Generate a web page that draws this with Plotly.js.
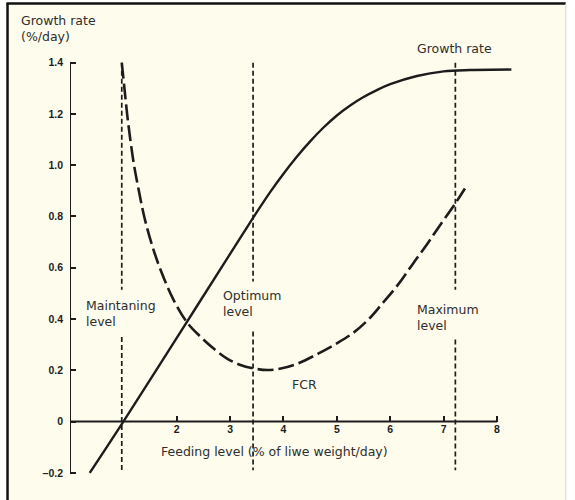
<!DOCTYPE html>
<html>
<head>
<meta charset="utf-8">
<script src="https://cdn.plot.ly/plotly-3.0.1.min.js"></script>
<style>
  html, body { margin: 0; padding: 0; background: #ffffff; }
  #chart { width: 575px; height: 500px; }
</style>
</head>
<body>
<div id="chart"></div>
<script>
// Growth rate curve (% per day) vs feeding level (% of live weight per day)
var growthX = [0.37, 1.0, 2.2, 3.0, 3.25, 3.5, 3.75, 4.0, 4.25, 4.5, 4.75, 5.0, 5.25, 5.5, 5.75, 6.0, 6.5, 7.0, 7.5, 8.27];
var growthY = [-0.2, 0.0, 0.392, 0.654, 0.736, 0.817, 0.895, 0.967, 1.033, 1.093, 1.147, 1.194, 1.233, 1.266, 1.293, 1.316, 1.348, 1.366, 1.371, 1.373];

// FCR curve
var fcrX = [0.97, 1.02, 1.07, 1.13, 1.20, 1.29, 1.39, 1.52, 1.70, 1.94, 2.20, 2.45, 2.72, 2.95, 3.18, 3.45, 3.70, 3.95, 4.25, 4.65, 5.00, 5.30, 5.60, 5.85, 6.15, 6.43, 6.70, 6.93, 7.20, 7.40];
var fcrY = [1.40, 1.30, 1.20, 1.10, 1.00, 0.90, 0.80, 0.70, 0.59, 0.475, 0.385, 0.33, 0.28, 0.245, 0.222, 0.207, 0.201, 0.207, 0.225, 0.265, 0.305, 0.345, 0.40, 0.46, 0.535, 0.617, 0.695, 0.765, 0.845, 0.909];

// Vertical reference levels (maintaining, optimum, maximum)
var levelNames = ["Maintaning<br>level", "Optimum<br>level", "Maximum<br>level"];
var levelX = [0.97, 3.43, 7.22];
var levelTop = [1.4, 1.4, 1.4];
var levelGapTop = [0.514, 0.546, 0.514];
var levelGapBottom = [0.33, 0.351, 0.32];
var levelBottom = [-0.19, -0.19, -0.19];
var levelLabelX = [0.27, 2.83, 6.47];
var levelLabelY = [0.42, 0.459, 0.405];

// Axis ticks
var xTickVals = [2, 3, 4, 5, 6, 7, 8];
var xTickText = ["2", "3", "4", "5", "6", "7", "8"];
var yTickVals = [-0.2, 0, 0.2, 0.4, 0.6, 0.8, 1.0, 1.2, 1.4];
var yTickText = ["\u20130.2", "0", "0.2", "0.4", "0.6", "0.8", "1.0", "1.2", "1.4"];

var ink = "#1c1c1c";
var textColor = "#2e2e2e";
var cream = "#fefcec";
var textFont = { family: "DejaVu Sans, Verdana, sans-serif", size: 12.5, color: textColor };
var tickFont = { family: "Liberation Sans, Arial, sans-serif", size: 10.5, color: ink, weight: "bold" };

// build vertical level segments
var vx = [], vy = [];
for (var i = 0; i < levelX.length; i++) {
  vx.push(levelX[i], levelX[i], null, levelX[i], levelX[i], null);
  vy.push(levelTop[i], levelGapTop[i], null, levelGapBottom[i], levelBottom[i], null);
}

var traces = [
  { x: vx, y: vy, mode: "lines", connectgaps: false,
    line: { color: ink, width: 1.7, dash: "5px,3px" }, hoverinfo: "skip" },
  { x: growthX, y: growthY, mode: "lines",
    line: { color: ink, width: 2.4, shape: "spline", smoothing: 1 }, hoverinfo: "skip" },
  { x: fcrX, y: fcrY, mode: "lines",
    line: { color: ink, width: 2.6, shape: "spline", smoothing: 1, dash: "16px,5px" }, hoverinfo: "skip" }
];

var yMin = -0.22, yMax = 1.5;
var xMin = 0, xMax = 8.6;
var mL = 70, mT = 36.5, mB = 21.5;
var plotW = 575 - mL - 45.8, plotH = 500 - mT - mB;
function px2paperX(p) { return (p - mL) / plotW; }
function px2paperY(p) { return (500 - mB - p) / plotH; }

var annotations = [];
for (var j = 0; j < levelNames.length; j++) {
  annotations.push({ x: levelLabelX[j], y: levelLabelY[j], xref: "x", yref: "y",
    text: levelNames[j], showarrow: false, xanchor: "left", yanchor: "middle",
    align: "left", font: textFont });
}
annotations.push({ x: 4.39, y: 0.144, xref: "x", yref: "y", text: "FCR", showarrow: false,
  xanchor: "center", yanchor: "middle", font: textFont });
annotations.push({ x: 7.2, y: 1.456, xref: "x", yref: "y", text: "Growth rate", showarrow: false,
  xanchor: "center", yanchor: "middle", font: textFont });
annotations.push({ x: 1.66, y: -0.117, xref: "x", yref: "y", text: "Feeding level (% of liwe weight/day)",
  showarrow: false, xanchor: "left", yanchor: "middle", font: textFont });
annotations.push({ x: px2paperX(19), y: px2paperY(27.5), xref: "paper", yref: "paper",
  text: "Growth rate<br>(%/day)", showarrow: false, xanchor: "left", yanchor: "middle",
  align: "left", font: textFont });

var shapes = [
  // cream panel
  { type: "rect", xref: "paper", yref: "paper", layer: "below",
    x0: px2paperX(7), x1: px2paperX(566), y0: px2paperY(505), y1: px2paperY(3),
    fillcolor: cream, line: { width: 0 } },
  // frame: left and top black, right light
  { type: "line", xref: "paper", yref: "paper", x0: px2paperX(7.5), x1: px2paperX(7.5),
    y0: px2paperY(505), y1: px2paperY(2.5), line: { color: "#111", width: 2.5 } },
  { type: "line", xref: "paper", yref: "paper", x0: px2paperX(6.5), x1: px2paperX(566),
    y0: px2paperY(3), y1: px2paperY(3), line: { color: "#111", width: 2.5 } },
  { type: "line", xref: "paper", yref: "paper", x0: px2paperX(566), x1: px2paperX(566),
    y0: px2paperY(505), y1: px2paperY(3), line: { color: "#d8d8d0", width: 1 } },
  // axes lines
  { type: "line", xref: "x", yref: "y", x0: 0, x1: 8, y0: 0, y1: 0, line: { color: ink, width: 2 } },
  { type: "line", xref: "x", yref: "y", x0: 0, x1: 0, y0: -0.2, y1: 1.4, line: { color: ink, width: 2 } }
];

var layout = {
  width: 575, height: 500,
  margin: { l: mL, r: 45.8, t: mT, b: mB, pad: 0 },
  paper_bgcolor: "#ffffff",
  plot_bgcolor: cream,
  showlegend: false,
  hovermode: false,
  xaxis: {
    range: [xMin, xMax], showgrid: false, zeroline: false, showline: false,
    tickmode: "array", tickvals: xTickVals, ticktext: xTickText,
    ticks: "inside", ticklen: 6, tickwidth: 2, tickcolor: ink,
    anchor: "free", position: (0 - yMin) / (yMax - yMin),
    tickfont: tickFont, automargin: false, fixedrange: true
  },
  yaxis: {
    range: [yMin, yMax], showgrid: false, zeroline: false, showline: false,
    tickmode: "array", tickvals: yTickVals, ticktext: yTickText,
    ticks: "inside", ticklen: 6, tickwidth: 2, tickcolor: ink,
    ticklabelstandoff: 6,
    tickfont: tickFont, automargin: false, fixedrange: true
  },
  annotations: annotations,
  shapes: shapes
};

Plotly.newPlot("chart", traces, layout, { staticPlot: true, displayModeBar: false });
</script>
</body>
</html>
